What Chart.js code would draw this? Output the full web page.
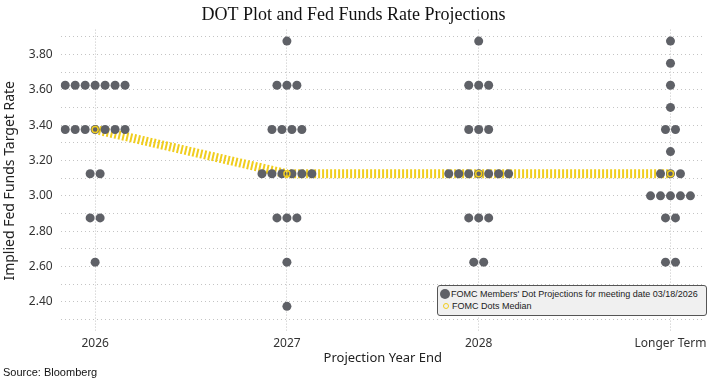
<!DOCTYPE html>
<html>
<head>
<meta charset="utf-8">
<script src="https://cdn.jsdelivr.net/npm/chart.js@4/dist/chart.umd.min.js"></script>
<style>
  html, body { margin: 0; padding: 0; background: #fff; }
  #wrap { position: relative; width: 712px; height: 382px; }
  #source { position: absolute; left: 3px; top: 366px; font: 11px "Liberation Sans", Arial, sans-serif; color: #111; }
  #legendBox {
    position: absolute; left: 437px; top: 285px; width: 268px; height: 29px;
    background: #f0f0f0; border: 1px solid #555; border-radius: 3px;
    font: 9px "Liberation Sans", Arial, sans-serif; color: #222;
  }
  .lgRow { position: absolute; left: 2px; white-space: nowrap; }
  .lgDot { display: inline-block; width: 10px; height: 10px; border-radius: 50%; background: #5f6167; vertical-align: -2px; margin-right: 1px; }
  .lgRing { display: inline-block; width: 4px; height: 4px; border-radius: 50%; border: 1.5px solid #f0cd1e; margin: 0 3px 0 3px; vertical-align: 0px; }
</style>
</head>
<body>
<div id="wrap">
  <canvas id="dotChart" width="712" height="382"></canvas>
  <div id="legendBox">
    <div class="lgRow" style="top:3px"><span class="lgDot"></span>FOMC Members' Dot Projections for meeting date 03/18/2026</div>
    <div class="lgRow" style="top:15px"><span class="lgRing"></span>FOMC Dots Median</div>
  </div>
  <div id="source">Source: Bloomberg</div>
</div>
<script>
// Kategorien und Zinsniveaus
const categories = ['2026', '2027', '2028', 'Longer Term'];
const rateLevels = [3.875, 3.75, 3.625, 3.5, 3.375, 3.25, 3.125, 3.0, 2.875, 2.625, 2.375];

// Anzahl der Dots je Zinsniveau (gleiche Reihenfolge wie rateLevels)
const counts2026   = [0, 0, 7, 0, 7, 0, 2, 0, 2, 1, 0];
const counts2027   = [1, 0, 3, 0, 4, 0, 6, 0, 3, 1, 1];
const counts2028   = [1, 0, 3, 0, 3, 0, 7, 0, 3, 2, 0];
const countsLonger = [1, 1, 1, 1, 2, 1, 3, 5, 2, 2, 0];

// Median je Kategorie
const medianValues = [3.375, 3.125, 3.125, 3.125];

// y-Achse
const yTickValues = [2.3, 2.4, 2.5, 2.6, 2.7, 2.8, 2.9, 3.0, 3.1, 3.2, 3.3, 3.4, 3.5, 3.6, 3.7, 3.8, 3.9];

const dotGray = '#5f6167';
const medianYellow = '#f0cd1e';
const dotStep = 0.052; // Abstand zwischen Dots nebeneinander

// Dots nebeneinander um die Kategorie herum verteilen
function buildDots() {
    const allCounts = [counts2026, counts2027, counts2028, countsLonger];
    const pts = [];
    allCounts.forEach((counts, ci) => {
        counts.forEach((n, ri) => {
            for (let k = 0; k < n; k++) {
                pts.push({ x: ci + (k - (n - 1) / 2) * dotStep, y: rateLevels[ri] });
            }
        });
    });
    return pts;
}

const medianPoints = medianValues.map((v, i) => ({ x: i, y: v }));

const ctx = document.getElementById('dotChart').getContext('2d');

new Chart(ctx, {
    type: 'scatter',
    data: {
        datasets: [
            {
                // Median-Linie (hinter den Dots)
                type: 'line',
                label: 'FOMC Dots Median',
                data: medianPoints,
                borderColor: medianYellow,
                borderWidth: 9,
                borderDash: [2, 2],
                borderCapStyle: 'butt',
                pointRadius: 0,
                tension: 0,
                order: 3
            },
            {
                label: "FOMC Members' Dot Projections for meeting date 03/18/2026",
                data: buildDots(),
                backgroundColor: dotGray,
                borderWidth: 0,
                pointRadius: 4.5,
                order: 2
            },
            {
                // Median-Marker oben drauf
                label: 'median marker',
                data: medianPoints,
                showLine: false,
                backgroundColor: 'rgba(0,0,0,0)',
                borderColor: medianYellow,
                borderWidth: 1.5,
                pointRadius: 3,
                order: 1
            }
        ]
    },
    options: {
        responsive: false,
        animation: false,
        layout: { padding: { left: 2, right: 7, top: 0, bottom: 16 } },
        plugins: {
            legend: { display: false },
            tooltip: { enabled: false },
            title: {
                display: true,
                text: 'DOT Plot and Fed Funds Rate Projections',
                color: '#111',
                font: { family: '"Liberation Serif", serif', size: 18, weight: 'normal' },
                padding: { top: 4, bottom: 4 }
            }
        },
        scales: {
            x: {
                type: 'linear',
                min: -0.18,
                max: 3.18,
                afterBuildTicks: (scale) => { scale.ticks = categories.map((c, i) => ({ value: i })); },
                ticks: {
                    callback: (v) => categories[v],
                    color: '#333',
                    font: { family: '"Noto Sans", sans-serif', size: 12 },
                    padding: 4,
                    maxRotation: 0
                },
                grid: { color: '#c4c4c4', drawTicks: false },
                border: { display: false, dash: [1, 2] },
                title: {
                    display: true,
                    text: 'Projection Year End',
                    color: '#222',
                    font: { family: '"Noto Sans", sans-serif', size: 13 },
                    padding: { top: -4, bottom: 0 }
                }
            },
            y: {
                min: 2.23,
                max: 3.94,
                afterBuildTicks: (scale) => { scale.ticks = yTickValues.map(v => ({ value: v })); },
                ticks: {
                    callback: (v) => (Math.round(v * 10) % 2 === 0 ? v.toFixed(2) : ''),
                    color: '#333',
                    font: { family: '"Noto Sans", sans-serif', size: 12 },
                    padding: 8
                },
                grid: { color: '#c4c4c4', drawTicks: false },
                border: { display: false, dash: [1, 3] },
                title: {
                    display: true,
                    text: 'Implied Fed Funds Target Rate',
                    color: '#222',
                    font: { family: '"Noto Sans", sans-serif', size: 14 },
                    padding: { top: 0, bottom: 2 }
                }
            }
        }
    }
});
</script>
</body>
</html>
